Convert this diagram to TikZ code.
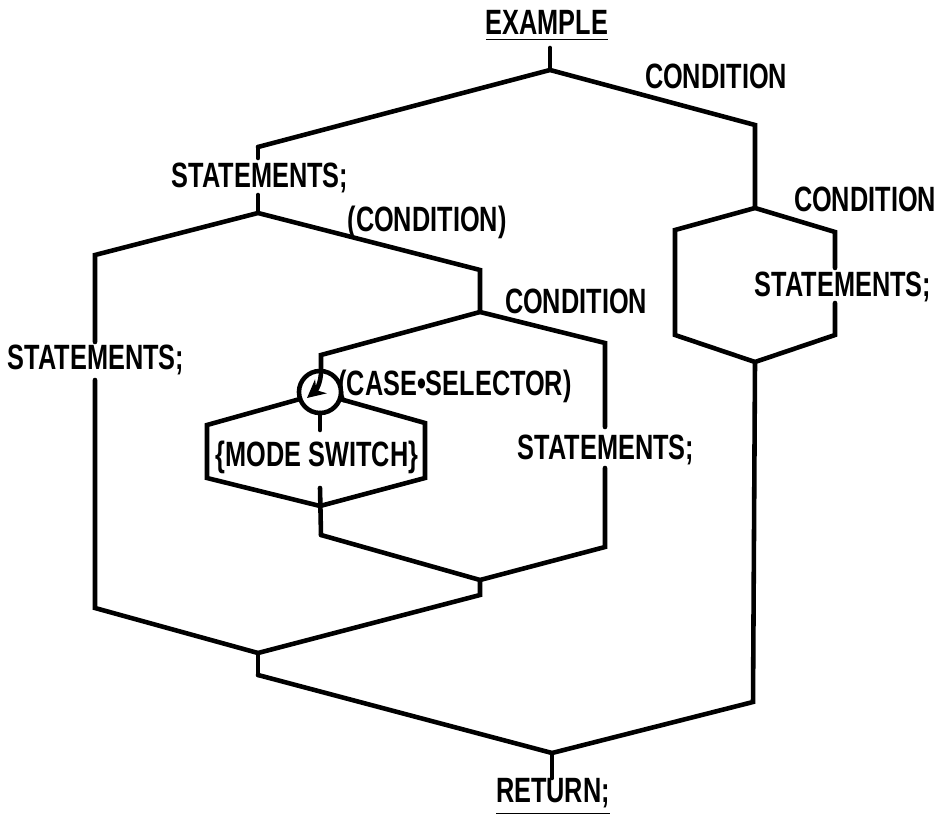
\documentclass[tikz,border=0pt]{standalone}
\usepackage{fontspec}
\setmainfont{Liberation Sans}[FakeStretch=0.72]
\usepackage{tkz-euclide}
\usetikzlibrary{arrows.meta}

\begin{document}
\begin{tikzpicture}[x=1cm,y=-1cm,
    lbl/.style={font=\bfseries\fontsize{10}{12}\selectfont,inner sep=0pt}]
    \useasboundingbox (0,0) rectangle (9.39,8.15);
    \tkzSetUpLine[line width=1.3pt,color=black]
    % main branch points
    \tkzDefPoints{5.50/0.48/E, 5.50/0.70/T, 2.58/1.47/TL, 7.55/1.25/TR,
                  2.58/1.58/Sa, 2.58/1.95/Sb, 2.58/2.13/J, 0.95/2.55/JL, 4.80/2.70/JR,
                  0.95/3.42/La, 0.95/3.80/Lb, 0.95/6.08/Lc,
                  4.80/3.12/K, 3.21/3.55/KL, 6.05/3.43/KR,
                  6.05/4.27/Ma, 6.05/4.68/Mb, 6.05/5.47/Mc, 3.21/5.35/Md,
                  4.80/5.80/N, 4.80/5.95/Nb, 2.58/6.53/P, 2.58/6.75/Pb,
                  5.52/7.53/B, 5.52/7.78/Bb}
    % case selector and mode switch
    \tkzDefPoints{3.20/3.92/O, 3.21/3.71/Ot, 3.20/4.13/Ob, 3.00/3.99/Ol, 3.40/3.99/Or,
                  3.07/3.98/Oa, 2.07/4.25/H1, 2.07/4.78/H2, 3.20/5.06/H3,
                  4.25/4.78/H4, 4.25/4.23/H5, 3.20/4.30/Hi, 3.20/4.88/Hj}
    % right branch
    \tkzDefPoints{7.55/2.08/R, 6.75/2.30/RL, 8.35/2.32/RR, 6.75/3.35/RLb,
                  8.35/2.68/RRa, 8.35/3.03/RRb, 8.35/3.35/RRc, 7.55/3.62/RB,
                  7.53/7.02/RBb}

    \tkzDrawPolySeg(TL,T,TR,R)
    \tkzDrawSegments(E,T TL,Sa Sb,J)
    \tkzDrawPolySeg(La,JL,J,JR,K)
    \tkzDrawPolySeg(Ot,KL,K,KR,Ma)
    \tkzDrawPolySeg(Lb,Lc,P,Nb,N)
    \tkzDrawPolySeg(Md,N,Mc,Mb)
    \tkzDrawPolySeg(Ol,H1,H2,H3,H4,H5,Or)
    \tkzDrawSegments(Ob,Hi Hj,Md)
    \tkzDrawSegments(P,Pb)
    \tkzDrawPolySeg(Pb,B,RBb,RB)
    \tkzDrawSegments(B,Bb)
    \tkzDrawPolySeg(RRa,RR,R,RL,RLb,RB,RRc,RRb)
    \tkzDrawCircle[line width=1.3pt,color=black](O,Ot)
    \draw[line width=1.3pt,-{Stealth[length=1.8mm,width=1.8mm]}] (Ot) to[out=-90,in=40] (Oa);
    %
    \node[lbl] (example) at (5.47,0.26) {\underline{EXAMPLE}};
    \node[lbl] (condA) at (7.16,0.76) {CONDITION};
    \node[lbl] (condB) at (8.65,1.99) {CONDITION};
    \node[lbl] (condC) at (4.27,2.22) {(CONDITION)};
    \node[lbl] (condD) at (5.76,3.01) {CONDITION};
    \node[lbl] (stmA) at (2.60,1.78) {STATEMENTS;};
    \node[lbl] (stmB) at (0.96,3.60) {STATEMENTS;};
    \node[lbl] (stmC) at (6.06,4.50) {STATEMENTS;};
    \node[lbl] (stmD) at (8.43,2.87) {STATEMENTS;};
    \node[lbl] (casesel) at (4.55,3.86) {(CASE•SELECTOR)};
    \node[lbl] (mode) at (3.17,4.57) {\{MODE SWITCH\}};
    \node[lbl] (ret) at (5.53,7.97) {\underline{RETURN;}};
\end{tikzpicture}
\end{document}
